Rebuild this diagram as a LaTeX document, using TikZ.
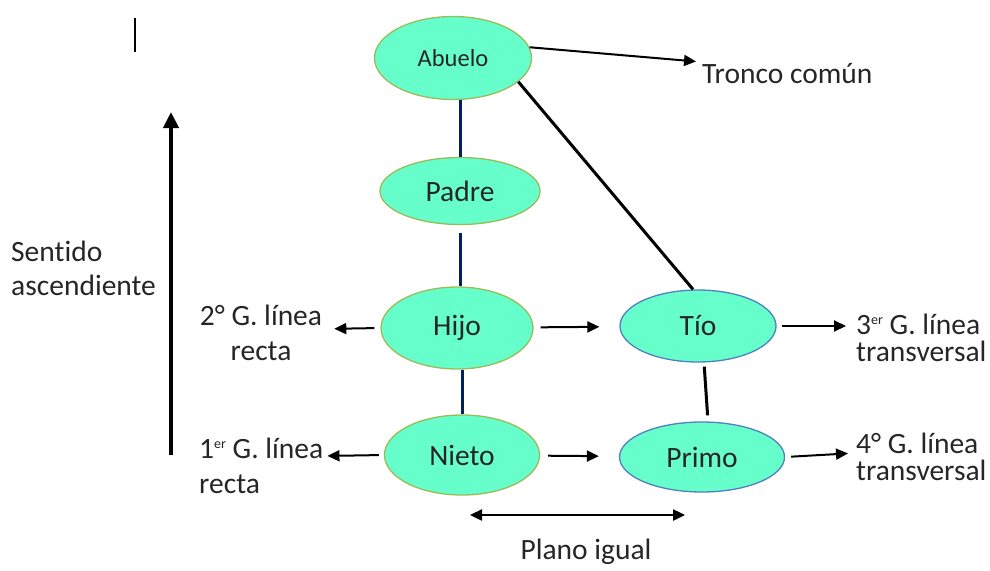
\documentclass[tikz,border=0pt]{standalone}
\usepackage{fontspec}
\setmainfont{Carlito}[Ligatures=NoCommon]
\usepackage{xcolor}
\usepackage{tikz}
\usetikzlibrary{shapes}
\usetikzlibrary{arrows.meta}
\usetikzlibrary{positioning}

\definecolor{menta}{HTML}{66FFCC}
\definecolor{bordeverde}{HTML}{9BBB59}
\definecolor{bordeazul}{HTML}{4F81BD}
\definecolor{marino}{HTML}{002060}
\definecolor{texto}{HTML}{262626}

\newcommand{\ordinal}[1]{\raisebox{0.75ex}{\fontsize{14pt}{14pt}\selectfont #1}}

\begin{document}
\begin{tikzpicture}[
		x=1pt,
		y=-1pt,
		font=\fontsize{29.5pt}{34pt}\selectfont,
		text=texto,
		>={Triangle[length=12,width=11]},
	]
		\tikzset{pariente/.style={
			ellipse,
			draw=bordeverde,
			line width=1.3,
			fill=menta,
			inner sep=0,
		}}
		\tikzset{colateral/.style={
			pariente,
			draw=bordeazul,
		}}
		\tikzset{rotulo/.style={
			inner sep=0,
			align=left,
		}}
		\tikzset{flecha/.style={
			->,
			line width=2,
		}}

		\useasboundingbox (0,0) rectangle (990,570);

		%---------------------------------
		% Linea recta
		\node[
			pariente,
			minimum width=157,
			minimum height=83,
			font=\fontsize{24.5pt}{28pt}\selectfont,
		] (abuelo) at (453,58) {Abuelo};
		\node[
			pariente,
			minimum width=160,
			minimum height=67,
		] (padre) at (460,191) {Padre};
		\node[
			pariente,
			minimum width=152,
			minimum height=82,
		] (hijo) at (457,328) {Hijo};
		\node[
			pariente,
			minimum width=155,
			minimum height=80,
		] (nieto) at (462,455) {Nieto};

		\draw[marino, line width=3] (padre.north) -- (padre |- abuelo.south);
		\draw[marino, line width=3, shorten <=8] (padre.south) -- (padre |- hijo.north);
		\draw[marino, line width=3] (nieto |- hijo.south) -- (nieto.north);

		%---------------------------------
		% Linea colateral
		\node[
			colateral,
			minimum width=156,
			minimum height=72,
		] (tio) at (698,326) {Tío};
		\node[
			colateral,
			minimum width=165,
			minimum height=70,
		] (primo) at (702,457) {Primo};

		\draw[line width=3] (abuelo.-20) -- ([xshift=-5]tio.north);
		\draw[line width=3, shorten <=4, shorten >=6] ([xshift=6]tio.south) -- ([xshift=6]primo.north);

		\draw[flecha, shorten <=7, shorten >=20] (hijo) -- (tio);
		\draw[flecha, shorten <=8, shorten >=20] (nieto) -- (primo);

		%---------------------------------
		% Rotulos
		\node[
			rotulo,
			anchor=west,
		] (tronco) at (702,74) {Tronco común};
		\draw[flecha, shorten >=6] (abuelo.8) -- ([yshift=12]tronco.west);

		\node[
			rotulo,
			align=center,
			font=\fontsize{29.5pt}{35pt}\selectfont,
		] (segundo) at (261,333) {2° G. línea\\recta};
		\draw[flecha, shorten <=6, shorten >=12] (hijo.west) -- ([yshift=4]segundo.east);

		\node[
			rotulo,
			anchor=west,
			font=\fontsize{29.5pt}{35pt}\selectfont,
		] (primero) at (199,466) {1\ordinal{er} G. línea\\recta};
		\draw[flecha, shorten <=5, shorten >=4] (nieto.west) -- ([yshift=10]primero.east);

		\node[
			rotulo,
			anchor=west,
			font=\fontsize{29.5pt}{27pt}\selectfont,
		] (tercero) at (856,338) {3\ordinal{er} G. línea\\transversal};
		\draw[flecha, shorten <=5, shorten >=10] (tio.east) -- ([yshift=12]tercero.west);

		\node[
			rotulo,
			anchor=west,
			font=\fontsize{29.5pt}{27pt}\selectfont,
		] (cuarto) at (856,457) {4° G. línea\\transversal};
		\draw[flecha, shorten <=6, shorten >=8] (primo.east) -- ([yshift=4]cuarto.west);

		%---------------------------------
		% Sentido y plano
		\node[
			rotulo,
			anchor=west,
		] (sentido) at (11,268) {Sentido\\ascendiente};
		\coordinate (sentidobase) at (171,455);
		\coordinate (sentidotope) at (171,112);
		\draw[->, line width=4.5, >={Triangle[length=16,width=15]}] (sentidobase) -- (sentidotope);

		\coordinate (planoizq) at (470,515);
		\coordinate (planoder) at (685,515);
		\draw[<->, line width=2.4] (planoizq) -- (planoder);
		\node[rotulo] (plano) at (586,552) {Plano igual};

		\draw[line width=1.6] (135,18) -- (135,52);
	\end{tikzpicture}
\end{document}
